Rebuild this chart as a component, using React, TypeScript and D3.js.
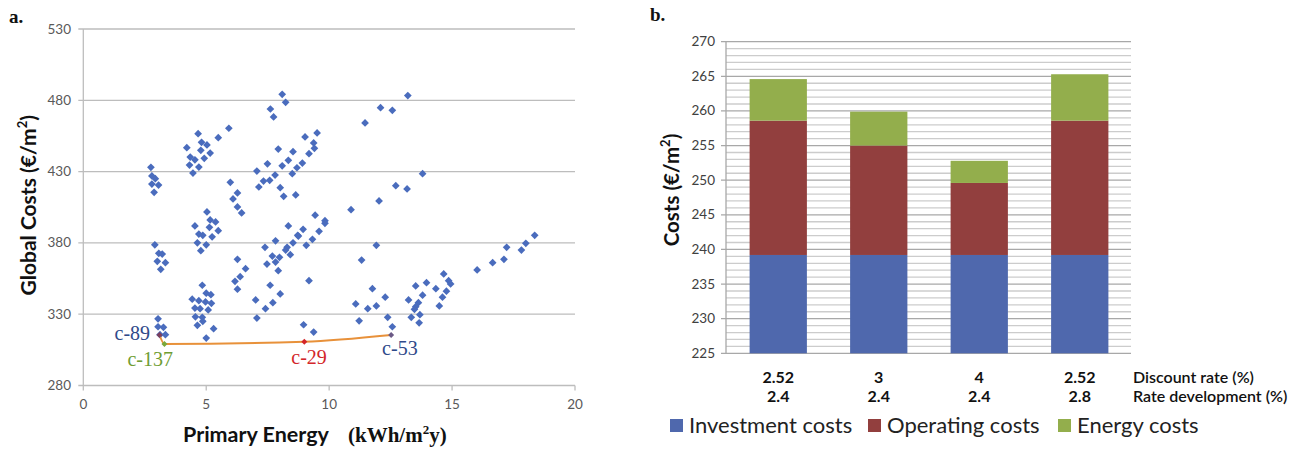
import React from 'react';
import * as d3 from 'd3';

// ---------- Chart a: scatter (Primary Energy vs Global Costs) ----------
const scatterEnergy: number[] = [
  2.75, 2.79, 2.93, 2.79, 3.06, 2.88,
  4.21, 4.35, 4.54, 4.32, 4.46, 4.67, 4.81, 5.03, 4.78, 4.92, 5.16, 4.70, 5.49, 5.92,
  5.98, 6.27, 6.09, 6.27, 6.44,
  5.03, 4.54, 5.16, 5.38, 4.70, 4.86, 5.13, 5.49, 4.64, 5.00, 5.24, 4.78,
  2.91, 3.07, 3.21, 3.01, 3.34, 3.15,
  4.84, 5.00, 5.19, 4.43, 4.70, 4.97, 4.54, 4.75, 5.08, 5.21, 4.56, 4.84, 4.86, 4.64, 5.30, 5.00,
  3.04, 3.04, 3.26, 3.12, 3.34,
  6.27, 6.60, 6.38, 6.17, 6.27,
  8.34, 8.72, 8.53, 7.82, 7.39, 8.29, 8.23, 7.69, 8.42, 7.98, 7.47, 7.82, 7.93, 7.60, 8.01, 7.01, 7.41, 7.71, 7.06,
  8.09, 8.23, 7.61, 7.74, 7.93, 8.53, 7.06, 7.49, 8.09, 8.34, 7.33, 7.14, 7.58, 7.80, 8.50, 8.69, 8.01, 8.15, 8.64,
  13.20, 12.09, 12.57, 11.46, 9.02, 9.51, 9.37, 9.40, 9.18, 8.91, 13.80, 12.71, 13.17, 12.03, 10.89,
  9.43, 9.83, 9.83, 9.59, 8.94, 8.75, 9.32, 9.07, 11.92, 11.32, 9.18, 11.76, 11.08, 11.57, 11.92, 12.28, 11.22, 12.38, 12.57, 8.96, 9.37,
  13.23, 13.52, 13.80, 13.96, 13.63, 13.52, 13.47, 13.34, 13.69, 13.66, 14.34, 14.61, 14.48, 14.77, 14.66, 14.86, 14.94,
  16.02, 16.65, 17.11, 17.22, 17.82, 18.00, 18.36,
];
const scatterCost: number[] = [
  433.0, 427.0, 425.0, 421.3, 420.6, 415.5,
  446.8, 440.2, 438.3, 434.6, 429.0, 456.6, 450.5, 448.7, 444.9, 439.3, 443.0, 433.2, 453.8, 460.4,
  422.5, 415.0, 410.8, 405.2, 401.0,
  401.7, 391.9, 396.1, 394.7, 386.2, 385.3, 390.9, 388.6, 380.1, 378.7, 384.3, 374.5,
  378.7, 372.7, 372.2, 367.1, 366.1, 361.5,
  350.3, 344.7, 343.7, 340.5, 339.5, 338.6, 334.3, 333.9, 333.0, 337.6, 328.2, 327.8, 325.0, 322.2, 319.8, 313.3,
  326.8, 321.2, 320.8, 315.6, 315.6,
  368.5, 361.9, 356.3, 353.1, 347.5,
  391.9, 385.3, 380.1, 381.5, 376.9, 376.9, 375.0, 370.8, 371.7, 369.9, 365.2, 366.6, 360.5, 350.3, 344.2, 340.0, 333.9, 338.1, 327.3,
  484.2, 478.6, 473.9, 468.3, 445.8, 444.0, 430.4, 435.5, 434.1, 437.9, 423.4, 419.2, 423.9, 427.6, 428.5, 432.7, 418.7, 412.7, 413.6,
  483.3, 474.8, 473.0, 464.1, 454.3, 457.1, 450.1, 446.3, 442.6, 436.0, 428.5, 420.1, 417.8, 409.4, 403.3,
  399.4, 395.6, 393.7, 388.1, 389.5, 384.8, 382.5, 378.3, 378.3, 368.0, 353.5, 347.9, 337.2, 333.9, 335.8, 341.9, 325.4, 327.8, 321.2, 322.6, 317.5,
  340.0, 349.8, 343.3, 352.1, 338.1, 335.3, 333.4, 327.8, 329.7, 324.0, 347.9, 341.9, 335.8, 346.1, 358.2, 353.5, 351.2,
  361.0, 366.1, 368.5, 376.9, 375.0, 379.7, 385.3,
];

const paretoEnergy = [3.10, 3.30, 8.99, 12.52];
const paretoCost = [315.4, 309.1, 310.7, 315.4];
const paretoLabels = ['c-89', 'c-137', 'c-29', 'c-53'];
const paretoColors = ['#7b3f5e', '#7aa83a', '#d3262a', '#6b5a86'];
const paretoLabelColors = ['#2f4a8a', '#6f9d33', '#d3262a', '#2f4a8a'];
const paretoLabelOffsets: [number, number][] = [[-45, 5], [-37, 22], [-13, 22], [-9, 20]];

const xTicksA = [0, 5, 10, 15, 20];
const yTicksA = [280, 330, 380, 430, 480, 530];

// ---------- Chart b: stacked bars ----------
const discountRates = ['2.52', '3', '4', '2.52'];
const rateDevelopment = ['2.4', '2.4', '2.4', '2.8'];
const investmentCosts = [239.2, 239.2, 239.2, 239.2];
const operatingCosts = [19.4, 15.8, 10.4, 19.4];
const energyCosts = [6.0, 4.9, 3.2, 6.7];
const seriesNames = ['Investment costs', 'Operating costs', 'Energy costs'];
const seriesColors = ['#4f68ad', '#923f3e', '#93ae4c'];
const yTicksB = [225, 230, 235, 240, 245, 250, 255, 260, 265, 270];

const SANS = "Lato, 'Open Sans', sans-serif";
const SERIF = "'Liberation Serif', 'DejaVu Serif', serif";

function ChartA() {
  const x = d3.scaleLinear().domain([0, 20]).range([83.3, 575]);
  const y = d3.scaleLinear().domain([280, 530]).range([385.5, 29]);
  const diamond = d3.symbol().type(d3.symbolSquare).size(30)() as string;
  const line = d3
    .line<number>()
    .x((_, i) => x(paretoEnergy[i]))
    .y((_, i) => y(paretoCost[i]))
    .curve(d3.curveMonotoneX);
  return (
    <g>
      <text x={9} y={23} fontFamily={SERIF} fontWeight="bold" fontSize={19} fill="#111">a.</text>
      {yTicksA.map((t) => (
        <g key={t}>
          <line x1={x(0) - 5} x2={x(20)} y1={y(t)} y2={y(t)} stroke="#bdbdbd" strokeWidth={1.3} />
          <text x={71} y={y(t) + 4.5} textAnchor="end" fontFamily={SANS} fontSize={13.5} fill="#595959">{t}</text>
        </g>
      ))}
      <line x1={x(0)} x2={x(0)} y1={y(530)} y2={y(280)} stroke="#bdbdbd" strokeWidth={1.3} />
      {xTicksA.map((t) => (
        <g key={t}>
          <line x1={x(t)} x2={x(t)} y1={y(280)} y2={y(280) + 5} stroke="#bdbdbd" strokeWidth={1.3} />
          <text x={x(t)} y={y(280) + 23} textAnchor="middle" fontFamily={SANS} fontSize={13.5} fill="#595959">{t}</text>
        </g>
      ))}
      {scatterEnergy.map((e, i) => (
        <path key={i} d={diamond} transform={`translate(${x(e)},${y(scatterCost[i])}) rotate(45)`} fill="#4a6cbd" />
      ))}
      <path d={line(paretoEnergy) as string} fill="none" stroke="#e8913a" strokeWidth={2} />
      {paretoEnergy.map((e, i) => (
        <g key={i}>
          <path
            d={d3.symbol().type(d3.symbolSquare).size(18)() as string}
            transform={`translate(${x(e)},${y(paretoCost[i])}) rotate(45)`}
            fill={paretoColors[i]}
          />
          <text
            x={x(e) + paretoLabelOffsets[i][0]}
            y={y(paretoCost[i]) + paretoLabelOffsets[i][1]}
            fontFamily={SERIF}
            fontSize={20}
            fill={paretoLabelColors[i]}
          >
            {paretoLabels[i]}
          </text>
        </g>
      ))}
      <text
        transform={`translate(36,${(y(280) + y(530)) / 2 - 2}) rotate(-90)`}
        textAnchor="middle"
        fontFamily={SANS}
        fontWeight="bold"
        fontSize={21}
        fill="#111"
      >
        Global Costs (€/m<tspan fontSize={13} dy={-9}>2</tspan><tspan dy={9}>)</tspan>
      </text>
      <text x={183} y={442} fontFamily={SANS} fontWeight="bold" fontSize={21.5} fill="#111">
        Primary Energy
        <tspan x={348} fontFamily={SERIF} fontSize={21} fontWeight="bold">(kWh/m</tspan>
        <tspan fontFamily={SERIF} fontSize={13} fontWeight="bold" dy={-8}>2</tspan>
        <tspan fontFamily={SERIF} fontSize={21} fontWeight="bold" dy={8}>y)</tspan>
      </text>
    </g>
  );
}

function ChartB() {
  const idx = discountRates.map((_, i) => String(i));
  const x = d3.scaleBand().domain(idx).range([728, 1130]).paddingInner(0.43).paddingOuter(0.215);
  const y = d3.scaleLinear().domain([225, 270]).range([353.3, 41.7]);
  const rows = idx.map((k, i) => ({
    key: k,
    inv: investmentCosts[i],
    op: operatingCosts[i],
    en: energyCosts[i],
  }));
  const stack = d3.stack<any>().keys(['inv', 'op', 'en'])(rows);
  const minor = d3.range(225, 271, 1);
  const left = 726;
  const right = 1131;
  return (
    <g>
      <text x={650} y={21} fontFamily={SERIF} fontWeight="bold" fontSize={19} fill="#111">b.</text>
      {minor.map((t) => {
        const major = t % 5 === 0;
        return (
          <line
            key={t}
            x1={major ? left - 5 : left}
            x2={right}
            y1={y(t)}
            y2={y(t)}
            stroke={major ? '#a8a8a8' : '#cccccc'}
            strokeWidth={1.3}
          />
        );
      })}
      <line x1={left} x2={left} y1={y(270)} y2={y(225)} stroke="#a8a8a8" strokeWidth={1.3} />
      {yTicksB.map((t) => (
        <text key={t} x={715} y={y(t) + 4.5} textAnchor="end" fontFamily={SANS} fontSize={13.5} fill="#404040">{t}</text>
      ))}
      {stack.map((s, si) =>
        s.map((d, i) => {
          const lo = Math.max(si === 0 ? 225 : d[0], 225);
          const hi = d[1];
          return (
            <rect
              key={`${si}-${i}`}
              x={x(String(i))}
              width={x.bandwidth()}
              y={y(hi)}
              height={y(lo) - y(hi)}
              fill={seriesColors[si]}
            />
          );
        })
      )}
      {idx.map((k, i) => (
        <g key={k}>
          <text x={(x(k) as number) + x.bandwidth() / 2} y={383} textAnchor="middle" fontFamily={SANS} fontWeight="bold" fontSize={16} fill="#111">
            {discountRates[i]}
          </text>
          <text x={(x(k) as number) + x.bandwidth() / 2} y={402} textAnchor="middle" fontFamily={SANS} fontWeight="bold" fontSize={16} fill="#111">
            {rateDevelopment[i]}
          </text>
        </g>
      ))}
      <text x={1133} y={383} fontFamily={SANS} fontSize={16} fontWeight={600} fill="#111">Discount rate (%)</text>
      <text x={1133} y={402} fontFamily={SANS} fontSize={16} fontWeight={600} fill="#111">Rate development (%)</text>
      <text
        transform={`translate(679,190) rotate(-90)`}
        textAnchor="middle"
        fontFamily={SANS}
        fontWeight="bold"
        fontSize={20.5}
        fill="#111"
      >
        Costs (€/m<tspan fontSize={13} dy={-9}>2</tspan><tspan dy={9}>)</tspan>
      </text>
      {seriesNames.map((n, i) => {
        const sx = [670, 868, 1058][i];
        return (
          <g key={n}>
            <rect x={sx} y={419} width={13} height={13} fill={seriesColors[i]} />
            <text x={sx + 19} y={432.5} fontFamily={SANS} fontSize={22} fill="#222">{n}</text>
          </g>
        );
      })}
    </g>
  );
}

export default function App() {
  return (
    <div style={{ position: 'absolute', left: 0, top: 0 }}>
      <svg width={1304} height={452} style={{ display: 'block', background: '#fff' }}>
        <rect width={1304} height={452} fill="#fff" />
        <ChartA />
        <ChartB />
      </svg>
    </div>
  );
}
